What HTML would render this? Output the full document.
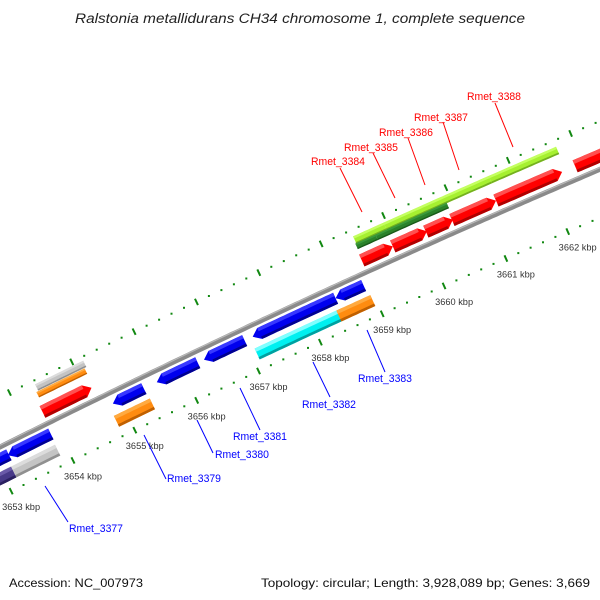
<!DOCTYPE html>
<html><head><meta charset="utf-8">
<style>
html,body{margin:0;padding:0;background:#fff;}
svg{display:block;font-family:"Liberation Sans",sans-serif;}
</style></head>
<body>
<svg id="chart" width="600" height="600" viewBox="0 0 600 600" xmlns="http://www.w3.org/2000/svg">
<rect x="0" y="0" width="600" height="600" fill="#fff"/>
<text x="300" y="23" text-anchor="middle" font-size="13.5" font-style="italic" fill="#222" textLength="450" lengthAdjust="spacingAndGlyphs">Ralstonia metallidurans CH34 chromosome 1, complete sequence</text>
<g id="ticks"></g>
<g id="backbone"></g>
<g id="features"></g>
<g id="labels"></g>
<text x="9" y="587" font-size="12" fill="#111" textLength="134" lengthAdjust="spacingAndGlyphs">Accession: NC_007973</text>
<text x="261" y="587" font-size="12" fill="#111" textLength="329" lengthAdjust="spacingAndGlyphs">Topology: circular; Length: 3,928,089 bp; Genes: 3,669</text>
</svg>
<script>
// ---- data (kbp) ----
const kbpTicks = [3652, 3653, 3654, 3655, 3656, 3657, 3658, 3659, 3660, 3661, 3662, 3663];
const kbpTickLabels = ["3652 kbp","3653 kbp","3654 kbp","3655 kbp","3656 kbp","3657 kbp","3658 kbp","3659 kbp","3660 kbp","3661 kbp","3662 kbp","3663 kbp"];
const fwdArrowStart = [3653.915, 3659.051, 3659.55, 3660.082, 3660.501, 3661.21, 3662.482];
const fwdArrowEnd   = [3654.704, 3659.55, 3660.098, 3660.517, 3661.21, 3662.273, 3664.09];
const limeStart = [3659.08, 3659.567, 3661.258];
const limeEnd   = [3659.567, 3661.258, 3662.337];
const dkGreenStart = [3659.067, 3659.389];
const dkGreenEnd   = [3659.389, 3660.532];
const upperGrayStart = [3653.995];
const upperGrayEnd   = [3654.768];
const upperOrangeStart = [3653.963];
const upperOrangeEnd   = [3654.736];
const revArrowStart = [3652.5, 3653.19, 3654.882, 3655.59, 3656.35, 3657.135, 3658.472];
const revArrowEnd   = [3653.206, 3653.882, 3655.381, 3656.25, 3657.006, 3658.472, 3658.923];
const lowerStart = [3652.17, 3653.158, 3654.816, 3657.087, 3658.408];
const lowerEnd   = [3653.158, 3653.866, 3655.396, 3658.472, 3658.955];
const lowerKind  = ["purple", "gray", "orange", "cyan", "orange"];
const redLabels = ["Rmet_3384","Rmet_3385","Rmet_3386","Rmet_3387","Rmet_3388"];
const blueLabels = ["Rmet_3377","Rmet_3379","Rmet_3380","Rmet_3381","Rmet_3382","Rmet_3383"];

const NS = "http://www.w3.org/2000/svg";
function f(x){ return 447 - 0.5*x + 6.2e-5*x*x; }
function fp(x){ return -0.5 + 1.24e-4*x; }
function sOf(kbp){ return 53.3 + 62.1*(kbp - 3654); }
function pt(s, d){ const g = fp(s), n = Math.sqrt(1+g*g); return [s + d*g/n, f(s) - d/n]; }
function mk(tag, attrs, parent){ const e = document.createElementNS(NS, tag); for (const k in attrs) e.setAttribute(k, attrs[k]); parent.appendChild(e); return e; }
function edge(s1, s2, d){ const a=[]; const n=Math.max(2, Math.ceil((s2-s1)/4)); for(let i=0;i<=n;i++){ a.push(pt(s1+(s2-s1)*i/n, d)); } return a; }
function P(a){ return a.map(p=>p[0].toFixed(1)+","+p[1].toFixed(1)).join(" "); }

const tickG = document.getElementById("ticks");
// inner ring (below backbone) and outer ring (above backbone)
const rings = [{d:-44.5, shift:0, name:"inner"}, {d:44.5, shift:38, name:"outer"}];
rings.forEach(r => {
  for (let i = 0; i < kbpTicks.length; i++) {
    const k = kbpTicks[i];
    for (let j = 0; j < 5; j++) {
      const s = sOf(k + j*0.2) + r.shift;
      if (s < -40 || s > 660) continue;
      if (j === 0) {
        const a = pt(s, r.d + 3.5), b = pt(s, r.d - 3.5);
        const ln = mk("line", {x1:a[0], y1:a[1], x2:b[0], y2:b[1], stroke:"#118811", "stroke-width":2}, tickG);
        
        
      } else {
        const c = pt(s, r.d);
        const dot = mk("rect", {x:(c[0]-1).toFixed(1), y:(c[1]-1).toFixed(1), width:2, height:2, fill:"#118811"}, tickG);
        
        
      }
    }
    if (r.name === "inner") {
      const c = pt(sOf(k), r.d);
      if (c[0] > -30 && c[0] < 600) {
        const t = mk("text", {x:(c[0]-9).toFixed(1), y:(c[1]+19).toFixed(1), "font-size":9, fill:"#333", textLength:38, lengthAdjust:"spacingAndGlyphs"}, tickG);
        t.textContent = kbpTickLabels[i];
        
        
      }
    }
  }
});

// backbone
const bbG = document.getElementById("backbone");
const bb = mk("polyline", {points:P(edge(-20, 640, 0)), fill:"none", stroke:"#8a8a8a", "stroke-width":5}, bbG);


const bbh = mk("polyline", {points:P(edge(-20, 640, 1.6)), fill:"none", stroke:"#b8b8b8", "stroke-width":1.2}, bbG);



const featG = document.getElementById("features");
const colors = {
  red:["#ff5050","#ff0000","#b00000"], blue:["#3838ff","#0000ee","#000090"],
  lime:["#c4ff60","#a6f030","#74b020"], dkgreen:["#3a9a3a","#2a822a","#1a5a1a"],
  orange:["#ffaa40","#ff8c10","#c06000"], gray:["#dcdcdc","#c4c4c4","#909090"],
  cyan:["#80ffff","#00f0f0","#00a0a0"], purple:["#6a5aa8","#483a88","#2a2060"]
};
function band(s1, s2, d, t, kind, arrow, name){
  const h = 7;
  let b1 = s1, b2 = s2;
  if (arrow === 1) b2 = Math.max(s1, s2 - h);
  if (arrow === -1) b1 = Math.min(s2, s1 + h);
  const top = edge(b1, b2, d + t/2), bot = edge(b1, b2, d - t/2).reverse();
  let pts = top.slice();
  if (arrow === 1) pts.push(pt(s2, d));
  pts = pts.concat(bot);
  if (arrow === -1) pts.push(pt(s1, d));
  const c = colors[kind];
  const g = mk("g", {}, featG);
  
  
  mk("polygon", {points:P(pts), fill:c[1]}, g);
  // shading: top highlight, bottom shadow
  const hl = edge(b1, b2, d + t/2).concat(edge(b1, b2, d + t/2 - t*0.3).reverse());
  mk("polygon", {points:P(hl), fill:c[0]}, g);
  const sh = edge(b1, b2, d - t/2 + t*0.22).concat(edge(b1, b2, d - t/2).reverse());
  mk("polygon", {points:P(sh), fill:c[2]}, g);
}
for (let i=0;i<upperGrayStart.length;i++) band(sOf(upperGrayStart[i]), sOf(upperGrayEnd[i]), 37, 7, "gray", 0, "upper-gray-feature");
for (let i=0;i<upperOrangeStart.length;i++) band(sOf(upperOrangeStart[i]), sOf(upperOrangeEnd[i]), 30, 6, "orange", 0, "upper-orange-feature");
for (let i=0;i<limeStart.length;i++) band(sOf(limeStart[i]), sOf(limeEnd[i]), 34, 8, "lime", 0, "lime-feature");
for (let i=0;i<dkGreenStart.length;i++) band(sOf(dkGreenStart[i]), sOf(dkGreenEnd[i]), 27.5, 6, "dkgreen", 0, "dark-green-feature");
for (let i=0;i<fwdArrowStart.length;i++) band(sOf(fwdArrowStart[i]), sOf(fwdArrowEnd[i]), 12.5, 13, "red", 1, "forward-gene-arrow");
for (let i=0;i<revArrowStart.length;i++) band(sOf(revArrowStart[i]), sOf(revArrowEnd[i]), -11, 12, "blue", -1, "reverse-gene-arrow");
for (let i=0;i<lowerStart.length;i++) band(sOf(lowerStart[i]), sOf(lowerEnd[i]), -28.5, 12, lowerKind[i], 0, "lower-" + lowerKind[i] + "-feature");

// labels (annotation placement)
const labG = document.getElementById("labels");
const redPos = [[311,165,340,168,362,212],[344,151,373,153,395,198],[379,136,408,138,425,185],[414,121,443,122,459,170],[467,100,495,103,513,147]];
const bluePos = [[69,532,45,486,68,522],[167,482,144,435,166,479],[215,458,197,420,213,453],[233,440,240,388,260,430],[302,408,313,362,330,397],[358,382,367,330,385,372]];
function lab(txt, p, color){
  const ln = mk("line", {x1:p[2], y1:p[3], x2:p[4], y2:p[5], stroke:color, "stroke-width":1}, labG);
  
  
  const t = mk("text", {x:p[0], y:p[1], "font-size":11, fill:color, textLength:54, lengthAdjust:"spacingAndGlyphs"}, labG);
  t.textContent = txt;
  
  
}
redLabels.forEach((t,i)=>lab(t, redPos[i], "#ff0000"));
blueLabels.forEach((t,i)=>lab(t, bluePos[i], "#0000ff"));
</script>
</body></html>
